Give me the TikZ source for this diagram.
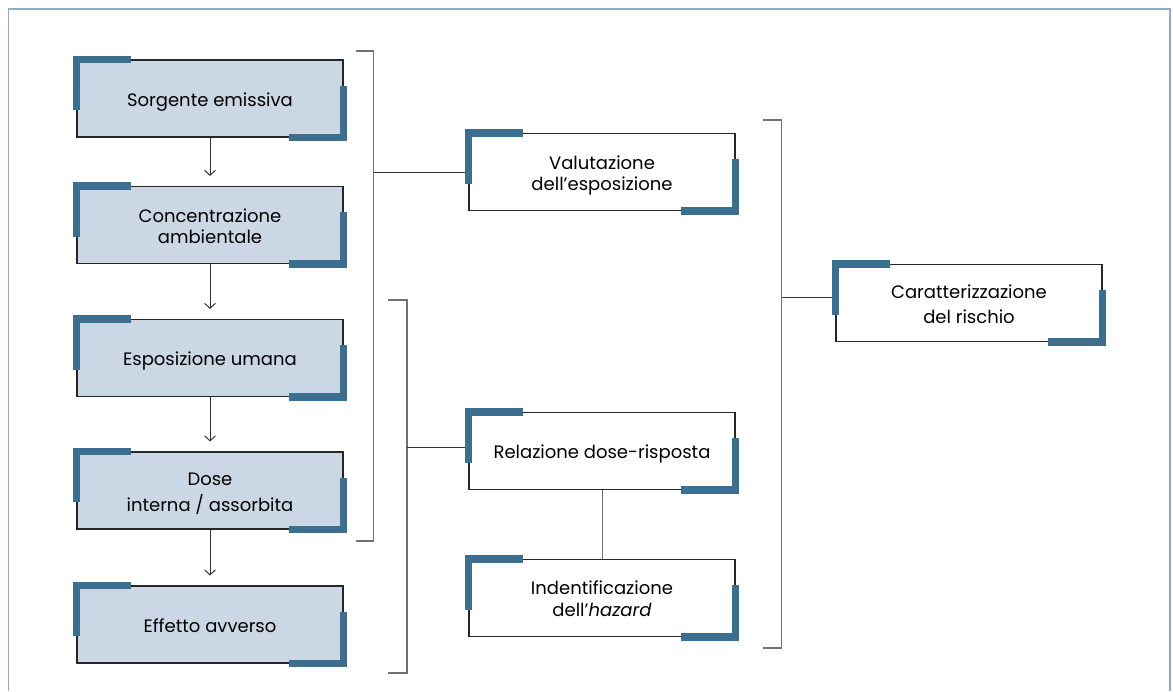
\documentclass[tikz,border=0pt]{standalone}
\usepackage{fontspec}
\setmainfont{Poppins}
\usetikzlibrary{arrows.meta}
\definecolor{boxfill}{RGB}{203,215,229}
\definecolor{accentblue}{RGB}{59,110,143}
\definecolor{framecol}{RGB}{143,172,196}
\definecolor{brk}{RGB}{112,112,112}
\newcommand{\lbl}[1]{\raisebox{-8pt}[0pt][0pt]{\begin{tabular}{@{}c@{}}#1\end{tabular}}}
\begin{document}
\begin{tikzpicture}[x=1pt,y=-1pt,
  base/.style={draw=black!85, line width=1.1pt, minimum width=266pt, minimum height=77pt,
    inner sep=0pt, font=\fontsize{18}{21.5}\selectfont},
  leftbox/.style={base, fill=boxfill},
  rightbox/.style={base, fill=white},
  accentline/.style={draw=accentblue, line width=7.8pt, line join=miter, line cap=butt},
  bracket/.style={draw=brk, line width=1.3pt},
  conn/.style={draw=black!80, line width=1pt},
  flow/.style={conn, -{Straight Barb[length=5pt,width=11pt]}, shorten >=10pt},
  framestyle/.style={draw=framecol, line width=1.5pt}
]
\useasboundingbox (0,0) rectangle (1173,691);
\draw[framestyle] (8.5,691) -- (8.5,9) -- (1170,9) -- (1170,691);

\node[leftbox] (s1) at (210,98.5) {\lbl{Sorgente emissiva}};
\node[leftbox] (s2) at (210,225) {\lbl{Concentrazione\\ambientale}};
\node[leftbox] (s3) at (210,358) {\lbl{Esposizione umana}};
\node[leftbox] (s4) at (210,490.5) {\lbl{Dose\\[3.5pt]interna / assorbita}};
\node[leftbox] (s5) at (210,624.5) {\lbl{Effetto avverso}};

\node[rightbox] (val) at (602,172) {\lbl{Valutazione\\dell’esposizione}};
\node[rightbox] (rel) at (602,451) {\lbl{Relazione dose-risposta}};
\node[rightbox] (ind) at (602,597.7) {\lbl{Indentificazione\\dell’\textit{hazard}}};
\node[rightbox] (car) at (969,302.7) {\lbl{Caratterizzazione\\[3.5pt]del rischio}};

\draw[flow] (s1.south) -- (s2.north);
\draw[flow] (s2.south) -- (s3.north);
\draw[flow] (s3.south) -- (s4.north);
\draw[flow] (s4.south) -- (s5.north);

\draw[bracket] (356,51) -- (373.5,51) -- (373.5,541) -- (356,541);
\draw[bracket] (388,300) -- (407,300) -- (407,673) -- (388,673);
\draw[bracket] (763,120) -- (781.5,120) -- (781.5,648) -- (763,648);

\coordinate (b1) at (373.5,172);
\coordinate (b2) at (407,447);
\coordinate (b3) at (781.5,297);
\draw[conn] (b1) -- (b1 -| val.west);
\draw[conn] (b2) -- (b2 -| rel.west);
\draw[conn] (b3) -- (b3 -| car.west);
\draw[conn, draw=brk] (rel.south) -- (ind.north);

\foreach \n in {s1,s2,s3,s4,s5,val,rel,ind,car}{
  \draw[accentline] ([xshift=55pt]\n.north west) -- (\n.north west) -- ([yshift=-51pt]\n.north west);
  \draw[accentline] ([yshift=52pt]\n.south east) -- (\n.south east) -- ([xshift=-55pt]\n.south east);
}
\end{tikzpicture}
\end{document}
